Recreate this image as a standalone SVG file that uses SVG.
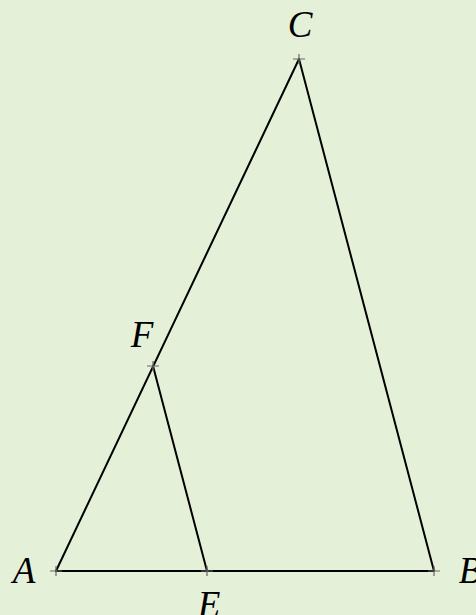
<svg xmlns="http://www.w3.org/2000/svg" width="476" height="615" viewBox="0 0 476 615">
<style>
.seg{stroke:#000;stroke-width:2;fill:none;stroke-linecap:round}
.tick{stroke:#666;stroke-width:1.2}
.lbl{font-family:"Liberation Serif","Times New Roman",serif;font-style:italic;font-size:37px;fill:#000;text-anchor:middle}
</style>
<rect width="476" height="615" fill="#e5f0d8"/>
<g id="connectors">
<line class="seg" x1="56" y1="571" x2="434" y2="571"/>
<line class="seg" x1="56" y1="571" x2="299" y2="59"/>
<line class="seg" x1="434" y1="571" x2="299" y2="59"/>
<line class="seg" x1="153" y1="366" x2="207" y2="571"/>
</g>
<g id="A"><path class="tick" d="M50 571H62M56 566V576"/><text class="lbl" x="24" y="583">A</text></g>
<g id="B"><path class="tick" d="M428 571H440M434 566V576"/><text class="lbl" x="470" y="583">B</text></g>
<g id="C"><path class="tick" d="M293 59H305M299 54V64"/><text class="lbl" x="300" y="37">C</text></g>
<g id="E"><path class="tick" d="M201 571H213M207 566V576"/><text class="lbl" x="209" y="617">E</text></g>
<g id="F"><path class="tick" d="M147 366H159M153 361V371"/><text class="lbl" x="142" y="347">F</text></g>
</svg>
